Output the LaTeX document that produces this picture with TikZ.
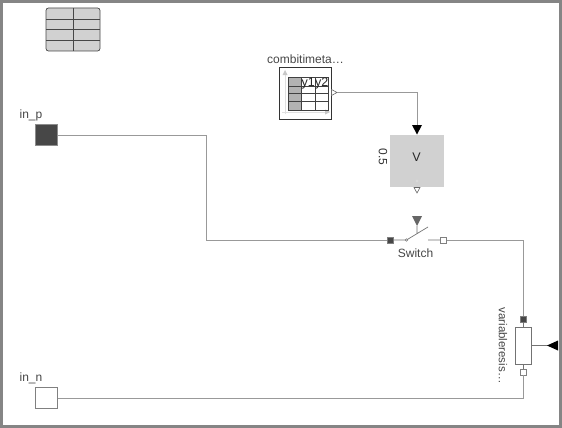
\documentclass[tikz,border=0pt]{standalone}
\usepackage{fontspec}
\setmainfont{Liberation Sans}
\tikzset{
  wire/.style={draw=black!40,line width=1pt},
  lbl/.style={inner sep=0pt,text=black!72,font=\fontsize{12}{13}\selectfont},
  portdark/.style={draw=black!50,fill=black!72,line width=0.6pt,minimum size=6pt,inner sep=0pt},
  portlight/.style={draw=black!50,fill=white,line width=0.6pt,minimum size=6pt,inner sep=0pt},
  grid/.style={draw=black!72,line width=0.7pt},
}
\begin{document}
\begin{tikzpicture}[x=1pt,y=-1pt]
\useasboundingbox (0,0) rectangle (562,428);
\fill[white] (0,0) rectangle (562,428);
\draw[black!48,line width=3pt] (1.5,1.5) rectangle (560.5,426.5);
% table icon
\draw[grid,fill=black!18,rounded corners=2.5pt] (46,8) rectangle (100,51);
\draw[grid] (73,8)--(73,51) (46,19)--(100,19) (46,29.5)--(100,29.5) (46,40)--(100,40);
% outer connectors
\node[draw=black!45,fill=black!72,line width=0.7pt,minimum width=21.5pt,minimum height=21.5pt,inner sep=0pt] (inp) at (46.5,135) {};
\node[lbl] (inplabel) at (31,115.5) {in\_p};
\node[draw=black!50,fill=white,line width=0.8pt,minimum width=21.5pt,minimum height=21pt,inner sep=0pt] (inn) at (46.5,398) {};
\node[lbl] (innlabel) at (31,378.5) {in\_n};
% combi table
\node[draw=black!80,fill=white,line width=0.7pt,minimum width=52pt,minimum height=51.5pt,inner sep=0pt] (combi) at (305.2,93.3) {};
\node[lbl] (combilabel) at (305.5,59) {combitimeta\ldots};
\fill[black!30] (288,77) rectangle (301.7,110);
\draw[black!12,line width=0.6pt] (285,114)--(285,74) (282,112)--(327,112);
\fill[black!22] (285,70)--(282.5,75)--(287.5,75)--cycle (330,112)--(325,109.5)--(325,114.5)--cycle;
\draw[black!75,line width=0.7pt] (288,77) rectangle (328,110) (301.7,77)--(301.7,110) (315,77)--(315,110) (288,86)--(328,86) (288,93.7)--(328,93.7) (288,101.5)--(328,101.5);
\node[inner sep=0pt,font=\fontsize{12.5}{14}\selectfont,text=black!85] (yone) at (308.2,83.7) {y1};
\node[inner sep=0pt,font=\fontsize{12.5}{14}\selectfont,text=black!85] (ytwo) at (321.7,83.7) {y2};
\coordinate (combiout) at (337,92.5);
\draw[black!60,fill=white,line width=0.6pt] (331.5,89.5)--(337,92.5)--(331.5,95.5)--cycle;
% voltage source
\node[fill=black!18,minimum width=54pt,minimum height=52pt,inner sep=0pt] (v) at (417,161) {};
\node[inner sep=0pt,text=black!85,font=\fontsize{12.5}{14}\selectfont] (vlabel) at (416.5,157) {V};
\node[lbl,rotate=-90,text=black!80] (vval) at (383,157) {0.5};
\fill[white!85!black] (417,181) circle (1.6pt);
\draw[black!60,fill=white,line width=0.6pt] (414,187.5)--(420,187.5)--(417,193)--cycle;
\coordinate (vin) at (417,125);
\fill[black] (412,125)--(422,125)--(417,134.5)--cycle;
\draw[wire] (combiout)-|(vin);
% switch
\node[portdark] (swa) at (390.7,240) {};
\node[portlight] (swb) at (443.7,240) {};
\coordinate (sw1) at (406.5,240);
\coordinate (sw2) at (428,240);
\coordinate (swtip) at (428,227);
\draw[black!55,line width=0.7pt] (swa)--(sw1) (sw2)--(swb) (sw1)--(swtip) (417,226)--(417,233);
\draw[black!55,fill=white,line width=0.5pt] (sw1) circle (1.2pt);
\fill[black!60] (412,216)--(422,216)--(417,226)--cycle;
\node[lbl] (swlabel) at (415.5,253.5) {Switch};
% resistor
\node[draw=black!55,fill=white,line width=0.7pt,minimum width=16pt,minimum height=37pt,inner sep=0pt] (res) at (523,345.5) {};
\node[portdark] (resa) at (523,319) {};
\node[portlight] (resb) at (523,372) {};
\node[lbl,rotate=-90,font=\fontsize{11.5}{12}\selectfont] (reslabel) at (503,345.5) {variableresis\ldots};
\coordinate (rin) at (548,345.5);
\draw[black!55,line width=0.7pt] (resa)--(res) (res)--(resb) (res)--(rin);
\fill[black] (558,340.5)--(558,350.5)--(547,345.5)--cycle;
% wires
\draw[wire] (inp.east)-|(206,240)--(swa);
\draw[wire] (swb)-|(resa);
\draw[wire] (inn.east)--(523,398)--(resb);
\end{tikzpicture}
\end{document}
